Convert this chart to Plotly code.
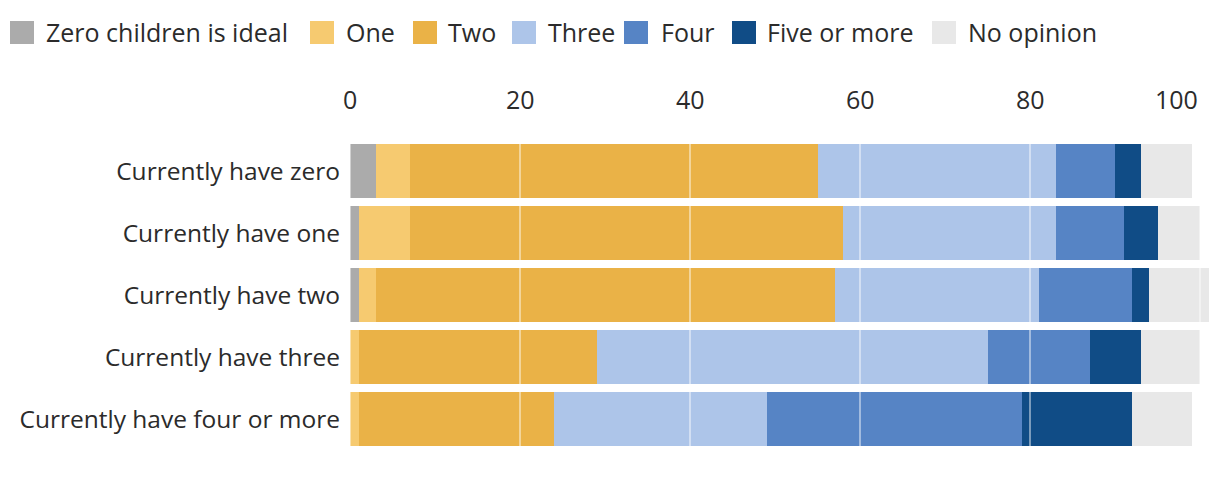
import plotly.graph_objects as go

categories = ["Currently have zero", "Currently have one", "Currently have two",
              "Currently have three", "Currently have four or more"]
series_names = ["Zero children is ideal", "One", "Two", "Three", "Four", "Five or more", "No opinion"]
zero_ideal = [3, 1, 1, 0, 0]
one = [4, 6, 2, 1, 1]
two = [48, 51, 54, 28, 23]
three = [28, 25, 24, 46, 25]
four = [7, 8, 11, 12, 30]
five_plus = [3, 4, 2, 6, 13]
no_opinion = [6, 5, 7, 7, 7]
tick_values = [0, 20, 40, 60, 80, 100]
tick_labels = ["0", "20", "40", "60", "80", "100"]

colors = ["#ABABAB", "#F6CA70", "#EAB247", "#ADC5E9", "#5684C5", "#104C86", "#E8E8E8"]
values = [zero_ideal, one, two, three, four, five_plus, no_opinion]

FONT = "Open Sans"
TXT = "#2b2b2b"
OFF = 8  # page body margin
W, H = 1220 - OFF, 478 - OFF
L, R, T, B = 350 - OFF, 5, 140 - OFF, 28
pw = W - L - R
ph = H - T - B
xmax = pw / 8.5

fig = go.Figure()
for name, vals, col in zip(series_names, values, colors):
    fig.add_trace(go.Bar(
        y=categories, x=vals, name=name, orientation="h",
        marker=dict(color=col, line=dict(width=0)),
        showlegend=False, hoverinfo="x+name",
    ))

def px_x(p):
    return (p - OFF - L) / pw

def px_y(p):
    return (H - B - (p - OFF)) / ph

shapes = []
annotations = []
# gridlines drawn over bars (white, translucent)
for v in tick_values:
    shapes.append(dict(type="line", xref="x", yref="paper", x0=v, x1=v, y0=0, y1=1,
                       line=dict(color="rgba(255,255,255,0.45)", width=2), layer="above"))
# tick labels at top
for v, lab in zip(tick_values, tick_labels):
    annotations.append(dict(xref="x", yref="paper", x=v, y=px_y(99), text=lab,
                            showarrow=False, xanchor="right" if v == 100 else "center",
                            yanchor="middle", font=dict(family=FONT, size=25, color=TXT)))

# manual legend
swatch_x = [10, 310, 413, 512, 624, 732, 932]
text_x = [44, 344, 446, 546, 659, 765, 966]
for name, col, sx, tx in zip(series_names, colors, swatch_x, text_x):
    shapes.append(dict(type="rect", xref="paper", yref="paper",
                       x0=px_x(sx), x1=px_x(sx + 24), y0=px_y(21), y1=px_y(44),
                       fillcolor=col, line=dict(width=0)))
    annotations.append(dict(xref="paper", yref="paper", x=px_x(tx), y=px_y(32),
                            text=name, showarrow=False, xanchor="left", yanchor="middle",
                            font=dict(family=FONT, size=25, color=TXT)))

fig.update_layout(
    barmode="stack",
    bargap=0.129,
    width=W, height=H,
    margin=dict(l=L, r=R, t=T, b=B, pad=0),
    paper_bgcolor="white", plot_bgcolor="white",
    font=dict(family=FONT, color=TXT),
    xaxis=dict(range=[0, xmax], showgrid=False, zeroline=False, showticklabels=False,
               showline=False, ticks=""),
    yaxis=dict(autorange="reversed", showgrid=False, zeroline=False, showline=False,
               ticks="", ticklabelstandoff=9, tickfont=dict(family=FONT, size=24.5, color=TXT)),
    shapes=shapes, annotations=annotations,
)

fig.write_html("out.html")
